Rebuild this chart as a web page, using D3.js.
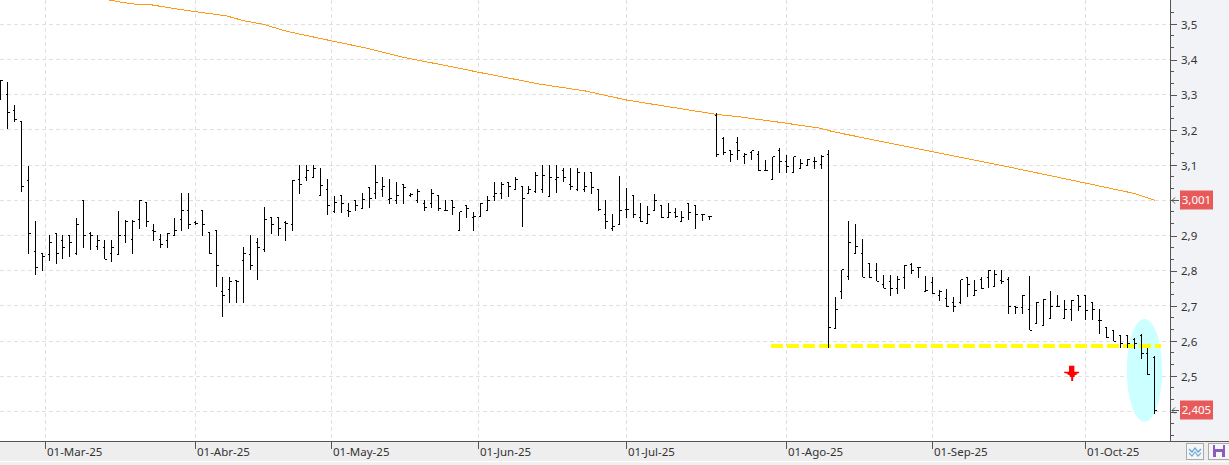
<!DOCTYPE html>
<html><head><meta charset="utf-8">
<script src="https://cdn.jsdelivr.net/npm/d3@7"></script>
<style>html,body{margin:0;padding:0;background:#fff;overflow:hidden}svg{display:block}text{font-family:"Noto Sans",sans-serif}</style>
</head><body><div id="c"></div>
<script>
const highs=[3.341,3.335,3.27,3.223,3.098,2.94,2.848,2.9,2.905,2.9,2.9,2.951,3.0,2.91,2.9,2.886,2.886,2.971,2.945,2.945,3.0,2.994,2.932,2.905,2.908,2.951,3.02,3.02,2.941,2.971,2.908,2.914,2.781,2.781,2.775,2.866,2.9,2.894,2.98,2.951,2.951,2.94,3.059,
3.1,3.1,3.1,3.092,3.06,3.012,3.014,2.991,3.0,3.02,3.037,3.1,3.066,3.06,3.051,3.046,3.02,3.031,3.0,3.031,3.014,3.0,3.0,2.967,2.986,2.966,2.991,3.012,3.051,3.051,3.051,3.066,3.04,3.04,3.08,3.1,3.1,3.1,3.091,3.091,3.091,
3.079,3.079,3.03,3.0,2.96,3.07,3.036,3.013,2.993,2.985,3.019,2.985,2.993,2.979,2.971,2.993,2.985,2.959,2.954,3.248,3.18,3.143,3.18,3.135,3.141,3.141,3.114,3.124,3.149,3.129,3.124,3.118,3.118,3.124,3.129,3.143,
2.725,2.803,2.94,2.934,2.889,2.821,2.821,2.789,2.789,2.784,2.815,2.821,2.809,2.784,2.781,2.744,2.749,2.725,2.775,2.781,2.775,2.781,2.801,2.801,2.801,2.781,2.699,2.73,2.784,2.71,2.721,2.742,2.73,2.716,2.716,2.73,2.73,2.71,2.69,2.639,2.63,2.616,2.616,2.61,2.619,2.579,2.559];
const lows=[3.286,3.202,3.222,3.023,2.847,2.788,2.8,2.827,2.819,2.833,2.839,2.845,2.864,2.859,2.859,2.833,2.825,2.847,2.879,2.847,2.918,2.924,2.883,2.864,2.864,2.898,2.913,2.918,2.931,2.898,2.848,2.754,2.668,2.708,2.708,2.708,2.801,2.773,2.854,2.904,2.898,2.883,2.913,
3.019,3.056,3.066,3.014,2.959,2.965,2.965,2.952,2.97,2.978,2.978,3.004,3.009,2.99,2.99,2.99,3.01,2.991,2.97,2.978,2.97,2.97,2.959,2.914,2.95,2.913,2.953,2.97,2.999,3.005,3.01,3.03,2.925,3.02,3.02,3.02,3.01,3.02,3.051,3.03,3.026,
3.024,3.018,2.971,2.919,2.913,2.93,2.951,2.951,2.939,2.934,2.971,2.951,2.951,2.951,2.94,2.945,2.919,2.94,2.945,3.123,3.129,3.108,3.114,3.103,3.114,3.083,3.083,3.058,3.077,3.077,3.077,3.089,3.098,3.089,3.089,2.58,
2.637,2.721,2.775,2.849,2.781,2.78,2.77,2.75,2.729,2.735,2.749,2.79,2.78,2.741,2.735,2.715,2.698,2.684,2.704,2.724,2.729,2.749,2.75,2.753,2.763,2.678,2.676,2.676,2.631,2.651,2.645,2.665,2.699,2.665,2.657,2.685,2.659,2.659,2.619,2.61,2.599,2.579,2.579,2.578,2.55,2.505,2.394];
const opens=[3.286,3.3,3.255,3.223,3.057,2.854,2.848,2.846,2.905,2.885,2.9,2.848,3.0,2.905,2.868,2.866,2.848,2.847,2.9,2.888,2.945,2.994,2.914,2.888,2.885,2.9,2.945,2.97,2.937,2.971,2.908,2.914,2.74,2.748,2.771,2.828,2.845,2.88,2.859,2.951,2.951,2.938,2.931,
3.06,3.066,3.066,3.014,3.031,2.967,3.014,2.97,3.0,2.978,3.037,3.02,3.031,3.003,3.0,3.046,3.014,3.0,2.991,2.991,3.014,2.97,3.0,2.914,2.986,2.951,2.953,2.97,3.01,3.02,3.051,3.031,3.04,3.02,3.026,3.031,3.01,3.06,3.086,3.046,3.031,
3.03,3.079,3.03,2.959,2.921,2.931,2.974,3.013,2.951,2.934,2.971,2.985,2.951,2.965,2.94,2.991,2.985,2.959,2.954,3.24,3.175,3.141,3.163,3.124,3.135,3.129,3.084,3.059,3.141,3.109,3.078,3.09,3.098,3.109,3.101,3.129,
2.637,2.742,2.784,2.849,2.849,2.821,2.801,2.761,2.77,2.75,2.781,2.818,2.809,2.742,2.766,2.73,2.722,2.71,2.71,2.781,2.73,2.775,2.781,2.756,2.773,2.775,2.699,2.696,2.69,2.651,2.645,2.665,2.699,2.665,2.69,2.73,2.73,2.71,2.659,2.639,2.63,2.616,2.616,2.605,2.616,2.565,2.553];
const closes=[3.341,3.249,3.229,3.039,2.905,2.808,2.841,2.88,2.848,2.866,2.88,2.931,2.9,2.9,2.885,2.833,2.866,2.9,2.941,2.941,3.0,2.939,2.911,2.874,2.905,2.914,2.97,2.931,2.934,2.931,2.848,2.814,2.729,2.769,2.769,2.848,2.814,2.866,2.945,2.931,2.919,2.934,3.057,
3.046,3.085,3.091,3.041,2.986,2.995,2.991,2.968,2.986,3.003,3.006,3.051,3.04,3.006,3.014,3.037,3.017,3.026,2.98,3.02,2.978,2.971,2.98,2.967,2.976,2.955,2.991,3.0,3.02,3.046,3.04,3.06,3.006,3.031,3.071,3.071,3.066,3.066,3.066,3.04,3.08,
3.039,3.036,2.974,2.94,2.925,2.971,2.974,2.959,2.94,2.959,3.0,2.951,2.965,2.954,2.951,2.965,2.959,2.959,2.954,3.129,3.135,3.129,3.141,3.129,3.141,3.084,3.084,3.124,3.109,3.095,3.124,3.104,3.115,3.109,3.124,2.64,
2.691,2.803,2.88,2.869,2.781,2.78,2.77,2.75,2.75,2.775,2.815,2.801,2.809,2.744,2.736,2.742,2.699,2.699,2.775,2.761,2.744,2.75,2.801,2.79,2.77,2.699,2.696,2.73,2.631,2.71,2.717,2.699,2.699,2.69,2.716,2.699,2.686,2.69,2.659,2.611,2.599,2.593,2.593,2.593,2.565,2.505,2.404];
const maIndex=[15.3,17.5,19.5,21.5,25.5,28,32.5,35,37.8,41.2,47.6,52.7,57.5,66,68.7,77.6,84.3,90,103,106.3,113,115,117.8,119.7,134,144.9,156,162.9,166];
const maValues=[3.57,3.5625,3.557,3.556,3.543,3.536,3.524,3.51,3.5,3.48,3.453,3.432,3.408,3.375,3.364,3.33,3.31,3.285,3.244,3.237,3.219,3.213,3.205,3.195,3.138,3.095,3.049,3.02,3.0];
const dateTickIndex=[6.46,28.02,47.58,68.71,90,113,134,156];
const dateTickLabels=["01-Mar-25","01-Abr-25","01-May-25","01-Jun-25","01-Jul-25","01-Ago-25","01-Sep-25","01-Oct-25"];
const priceTicks=[2.4,2.5,2.6,2.7,2.8,2.9,3.0,3.1,3.2,3.3,3.4,3.5];
const minorTicks=[2.333,2.367,2.433,2.467,2.533,2.567,2.633,2.667,2.733,2.767,2.833,2.867,2.933,2.967,3.033,3.067,3.133,3.167,3.233,3.267,3.333,3.367,3.433,3.467,3.533];
const supportLevel=2.586, supportFrom=110.8, supportTo=166.9;
const lastValues=[{v:3.001,t:"3,001"},{v:2.405,t:"2,405"}];
const taggedTicks=[3.0,2.4];

const W=1229,H=465,plotR=1170,plotB=441;
const x=d3.scaleLinear().domain([0,166]).range([0.4,0.4+6.955*166]);
const y=d3.scaleLinear().domain([2.4,3.5]).range([411.5,24.3]);
const cr=v=>Math.floor(v)+0.5;
const svg=d3.select("#c").append("svg").attr("width",W).attr("height",H);
svg.append("rect").attr("width",W).attr("height",H).attr("fill","#fff");
svg.append("rect").attr("x",plotR).attr("width",W-plotR).attr("height",plotB).attr("fill","#f2f3f7");
svg.append("rect").attr("y",plotB).attr("width",W).attr("height",20).attr("fill","#eeeeee");
svg.append("rect").attr("y",plotB+21).attr("width",W).attr("height",3).attr("fill","#f0f0f0");

const plot=svg.append("svg").attr("width",plotR).attr("height",plotB).attr("overflow","hidden");
const gridC="#e0e0e0";
plot.append("g").selectAll("line").data(priceTicks).join("line")
 .attr("x1",0).attr("x2",plotR).attr("y1",d=>cr(y(d))).attr("y2",d=>cr(y(d)))
 .attr("stroke",gridC).attr("stroke-dasharray","4 3");
plot.append("g").selectAll("line").data(dateTickIndex).join("line")
 .attr("y1",0).attr("y2",plotB).attr("x1",d=>cr(x(d))).attr("x2",d=>cr(x(d)))
 .attr("stroke",gridC).attr("stroke-dasharray","4 3");

plot.append("ellipse").attr("cx",x(164.5)).attr("cy",y(2.517)).attr("rx",17.7).attr("ry",51.4).attr("fill","#ccffff");
plot.append("line").attr("x1",x(supportFrom)).attr("x2",x(supportTo)).attr("y1",y(supportLevel)).attr("y2",y(supportLevel))
 .attr("stroke","#ffff00").attr("stroke-width",4).attr("stroke-dasharray","12 4").attr("shape-rendering","crispEdges");
const ma=d3.line().x((d,i)=>x(maIndex[i])).y(d=>y(d));
plot.append("path").attr("d",ma(maValues)).attr("fill","none").attr("stroke","#ff9a14").attr("stroke-width",1).attr("shape-rendering","crispEdges");
const bars=plot.append("g").attr("stroke","#000").attr("shape-rendering","crispEdges");
highs.forEach((h,i)=>{
 const px=cr(x(i));
 bars.append("line").attr("x1",px).attr("x2",px).attr("y1",Math.round(y(h))).attr("y2",Math.round(y(lows[i])));
 bars.append("line").attr("x1",px-2).attr("x2",px).attr("y1",cr(y(opens[i]))).attr("y2",cr(y(opens[i])));
 bars.append("line").attr("x1",px).attr("x2",px+2.5).attr("y1",cr(y(closes[i]))).attr("y2",cr(y(closes[i])));
});
const ax=x(154)+0.2, ay=y(2.5);
plot.append("path").attr("fill","#ff0000").attr("transform",`translate(${ax},${ay})`)
 .attr("d","M-2.7,-10.5H2.7V-4.5H7.5V-3.2L5,-2.5V-1.5L3,-1V0.5L1.5,1V4.7H-0.5V1L-2,0.5V-1L-4,-1.5V-2.5L-7.5,-3.2V-4.5H-2.7Z");

const yAxis=d3.axisRight(y).tickValues(priceTicks).tickSize(6).tickPadding(4).tickFormat(d=>d3.format(".1f")(d).replace(".",","));
const gy=svg.append("g").attr("transform",`translate(${plotR+.5},0)`).call(yAxis);
gy.select(".domain").remove();
gy.selectAll(".tick line").attr("stroke","#555").attr("shape-rendering","crispEdges");
gy.selectAll(".tick text").attr("fill","#333").attr("font-size",11.5).attr("font-family",'"Noto Sans",sans-serif').attr("x",10.5).attr("y",0.6);
gy.selectAll(".tick").filter(d=>taggedTicks.includes(d)).select("text").remove();
svg.append("g").selectAll("line").data(minorTicks).join("line")
 .attr("x1",plotR).attr("x2",plotR+4).attr("y1",d=>cr(y(d))).attr("y2",d=>cr(y(d))).attr("stroke","#555");
svg.append("line").attr("x1",plotR+.5).attr("x2",plotR+.5).attr("y1",0).attr("y2",plotB).attr("stroke","#555");
const tag=svg.append("g").selectAll("g").data(lastValues).join("g").attr("transform",d=>`translate(0,${Math.round(y(d.v))})`);
tag.append("rect").attr("x",1180).attr("y",-9.5).attr("width",33).attr("height",19).attr("fill","#e85a5a");
tag.append("text").attr("x",1196.5).attr("y",4).attr("text-anchor","middle").attr("fill","#fff").attr("font-size",11.5).text(d=>d.t);
tag.append("path").attr("d","M1179,0.5H1172M1175,-2.5L1172,0.5L1175,3.5").attr("fill","none").attr("stroke","#555");

const xAxis=d3.axisBottom(x).tickValues(dateTickIndex).tickSize(8).tickFormat((d,i)=>dateTickLabels[i]);
const gx=svg.append("g").attr("transform",`translate(0,${plotB})`).call(xAxis);
gx.select(".domain").remove();
gx.selectAll(".tick").attr("transform",d=>`translate(${cr(x(d))},0)`);
gx.selectAll(".tick line").attr("stroke","#555");
gx.selectAll(".tick text").attr("fill","#333").attr("font-size",11.5).attr("font-family",'"Noto Sans",sans-serif').attr("text-anchor","start").attr("x",1.5).attr("y",7).attr("dy","0.71em");
svg.append("line").attr("x1",0).attr("x2",W).attr("y1",plotB+.5).attr("y2",plotB+.5).attr("stroke","#555");

svg.append("rect").attr("x",1186.5).attr("y",443.5).attr("width",17).attr("height",16).attr("fill","#f6f6f6").attr("stroke","#aaa");
svg.append("path").attr("d","M1189,449L1192,452L1195,448L1198,452L1201,449").attr("fill","none").attr("stroke","#5aa0dc").attr("stroke-width",1.2);
svg.append("path").attr("d","M1189,453L1192,456L1195,452L1198,456L1201,453").attr("fill","none").attr("stroke","#6fb0e0").attr("stroke-width",1.2);
svg.append("rect").attr("x",1208.5).attr("y",443.5).attr("width",21).attr("height",16).attr("fill","#f6f6f6").attr("stroke","#aaa");
svg.append("rect").attr("x",1213).attr("y",445).attr("width",12).attr("height",12).attr("fill","#8a5cc2");
svg.append("rect").attr("x",1215).attr("y",445).attr("width",8).attr("height",4).attr("fill","#f6f6f6");
svg.append("rect").attr("x",1216).attr("y",452).attr("width",6).attr("height",5).attr("fill","#f6f6f6");
</script></body></html>
